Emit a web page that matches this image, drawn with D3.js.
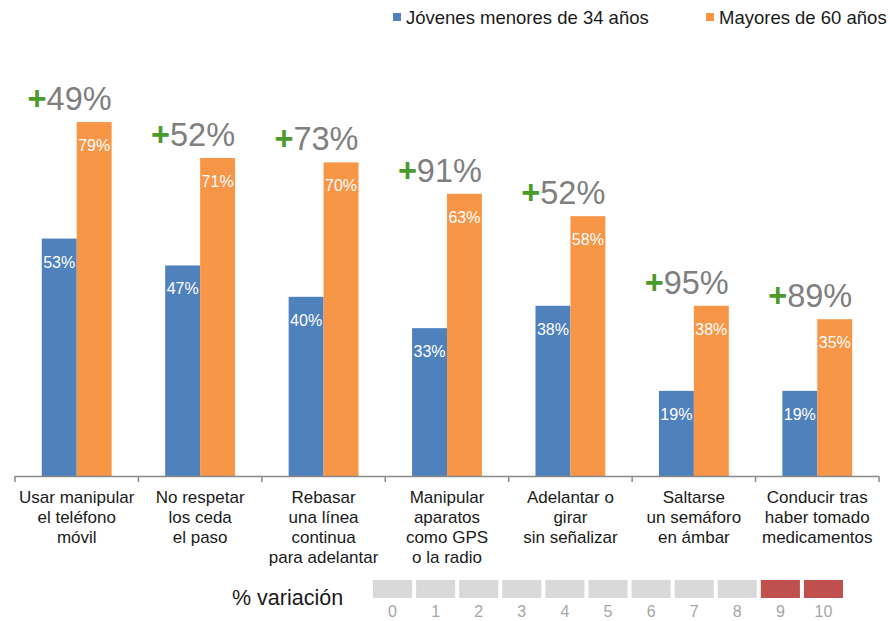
<!DOCTYPE html>
<html>
<head>
<meta charset="utf-8">
<script src="https://cdn.jsdelivr.net/npm/d3@7"></script>
<style>
    body { margin: 0; background: #fff; }
    svg text { font-family: "Liberation Sans", Arial, sans-serif; }
</style>
</head>
<body>
<div id="vis"></div>
<script>
// data
var categories = [
    ["Usar manipular", "el teléfono", "móvil"],
    ["No respetar", "los ceda", "el paso"],
    ["Rebasar", "una línea", "continua", "para adelantar"],
    ["Manipular", "aparatos", "como GPS", "o la radio"],
    ["Adelantar o", "girar", "sin señalizar"],
    ["Saltarse", "un semáforo", "en ámbar"],
    ["Conducir tras", "haber tomado", "medicamentos"]
];
var jovenes = [53, 47, 40, 33, 38, 19, 19];
var mayores = [79, 71, 70, 63, 58, 38, 35];
var variacion = [49, 52, 73, 91, 52, 95, 89];
var seriesNames = ["Jóvenes menores de 34 años", "Mayores de 60 años"];
var scaleTicks = [0, 1, 2, 3, 4, 5, 6, 7, 8, 9, 10];
var scaleHot = [9, 10];

var width = 890, height = 621;
var colors = ["#4f81bd", "#f79646"];

var svg = d3.select("#vis")
    .append("svg")
        .attr("width", width)
        .attr("height", height);

var x0 = d3.scaleBand()
    .domain(d3.range(categories.length))
    .range([15, 879])
    .paddingInner(0.434)
    .paddingOuter(0.217);

var x1 = d3.scaleBand()
    .domain([0, 1])
    .range([0, x0.bandwidth()]);

var y = d3.scaleLinear()
    .domain([0, 100])
    .range([476, 28]);

// bars
var groups = svg.selectAll(".grp")
    .data(categories)
    .enter()
    .append("g")
        .attr("class", "grp")
        .attr("transform", function(d, i) { return "translate(" + x0(i) + ",0)"; });

groups.each(function(d, i)
{
    var g = d3.select(this);
    var vals = [jovenes[i], mayores[i]];
    g.selectAll("rect")
        .data(vals)
        .enter()
        .append("rect")
            .attr("x", function(v, j) { return x1(j); })
            .attr("y", function(v) { return y(v); })
            .attr("width", x1.bandwidth())
            .attr("height", function(v) { return y(0) - y(v); })
            .attr("fill", function(v, j) { return colors[j]; });

    g.selectAll(".val")
        .data(vals)
        .enter()
        .append("text")
            .attr("class", "val")
            .attr("x", function(v, j) { return x1(j) + x1.bandwidth() / 2; })
            .attr("y", function(v) { return y(v) + 29; })
            .attr("text-anchor", "middle")
            .attr("font-size", 16)
            .attr("fill", "#fff")
            .text(function(v) { return v + "%"; });

    // variation label above the orange bar
    var t = g.append("text")
        .attr("x", x1(1) + x1.bandwidth())
        .attr("y", y(mayores[i]) - 12)
        .attr("text-anchor", "end")
        .attr("font-size", 32.5);
    t.append("tspan").attr("fill", "#4a9b2c").attr("font-weight", "bold").text("+");
    t.append("tspan").attr("fill", "#7f7f7f").text(variacion[i] + "%");
});

// axis
var axis = svg.append("g");
axis.append("line")
    .attr("x1", 15).attr("x2", 879)
    .attr("y1", 476.5).attr("y2", 476.5)
    .attr("stroke", "#898989")
    .attr("stroke-width", 1.5);

var boundaries = d3.range(categories.length + 1).map(function(i)
{
    return i < categories.length ? x0(i) - x0.step() * x0.paddingOuter() : 879;
});
axis.selectAll(".tick")
    .data(boundaries)
    .enter()
    .append("line")
        .attr("x1", function(d) { return d; })
        .attr("x2", function(d) { return d; })
        .attr("y1", 476).attr("y2", 482)
        .attr("stroke", "#898989")
        .attr("stroke-width", 1.5);

// category labels
categories.forEach(function(lines, i)
{
    var cx = x0(i) + x0.bandwidth() / 2;
    var txt = svg.append("text")
        .attr("text-anchor", "middle")
        .attr("font-size", 17)
        .attr("fill", "#1a1a1a");
    lines.forEach(function(l, k)
    {
        txt.append("tspan")
            .attr("x", cx)
            .attr("y", 503 + k * 20)
            .text(l);
    });
});

// legend
var legendX = [393, 706];
seriesNames.forEach(function(name, i)
{
    svg.append("rect")
        .attr("x", legendX[i])
        .attr("y", 13)
        .attr("width", 8)
        .attr("height", 8)
        .attr("fill", colors[i]);
    svg.append("text")
        .attr("x", legendX[i] + 13)
        .attr("y", 24)
        .attr("font-size", 18.5)
        .attr("fill", "#1a1a1a")
        .text(name);
});

// variation scale
svg.append("text")
    .attr("x", 232)
    .attr("y", 605)
    .attr("font-size", 21.5)
    .attr("fill", "#1a1a1a")
    .text("% variación");

var sx = d3.scaleBand()
    .domain(scaleTicks)
    .range([373, 843])
    .paddingInner(0.093);

svg.selectAll(".scl")
    .data(scaleTicks)
    .enter()
    .append("rect")
        .attr("class", "scl")
        .attr("x", function(d) { return sx(d); })
        .attr("y", 580)
        .attr("width", sx.bandwidth())
        .attr("height", 18)
        .attr("fill", function(d) { return scaleHot.indexOf(d) >= 0 ? "#c0504d" : "#d9d9d9"; });

svg.selectAll(".sclt")
    .data(scaleTicks)
    .enter()
    .append("text")
        .attr("class", "sclt")
        .attr("x", function(d) { return sx(d) + sx.bandwidth() / 2; })
        .attr("y", 617)
        .attr("text-anchor", "middle")
        .attr("font-size", 16)
        .attr("fill", "#a6a6a6")
        .text(function(d) { return d; });
</script>
</body>
</html>
